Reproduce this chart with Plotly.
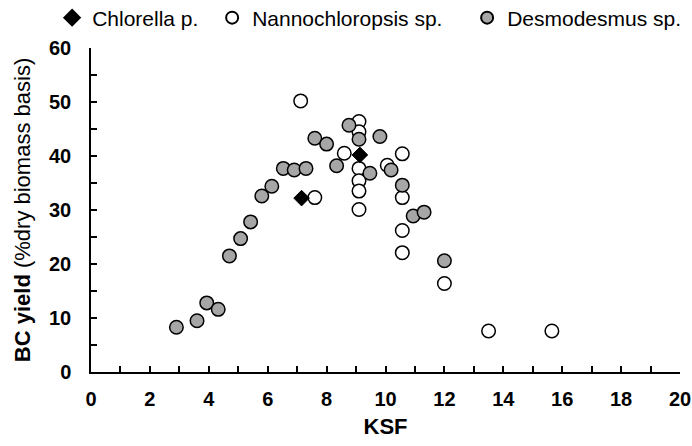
import plotly.graph_objects as go

# Chlorella p.
chl_ksf = [7.15, 9.13]
chl_yield = [32.2, 40.2]

# Nannochloropsis sp.
nan_ksf = [7.12, 7.6, 8.6, 9.1, 9.1, 9.1, 9.1, 9.1, 9.1, 10.06, 10.57, 10.57, 10.57, 10.57, 12.0, 13.5, 15.65]
nan_yield = [50.2, 32.3, 40.5, 46.4, 44.5, 37.7, 35.4, 33.5, 30.1, 38.3, 40.4, 32.3, 26.2, 22.1, 16.4, 7.6, 7.6]

# Desmodesmus sp.
des_ksf = [2.9, 3.6, 3.93, 4.32, 4.7, 5.08, 5.42, 5.8, 6.14, 6.53, 6.9, 7.3, 7.6, 8.0, 8.34,
           8.76, 9.1, 9.47, 9.81, 10.19, 10.57, 10.94, 11.31, 12.0]
des_yield = [8.3, 9.5, 12.8, 11.6, 21.5, 24.7, 27.8, 32.6, 34.4, 37.7, 37.4, 37.7, 43.3, 42.2, 38.2,
             45.7, 43.1, 36.8, 43.6, 37.4, 34.6, 28.9, 29.6, 20.6]

FONT = "Arial, Liberation Sans, sans-serif"

fig = go.Figure()
fig.add_trace(go.Scatter(
    x=nan_ksf, y=nan_yield, mode="markers", name="Nannochloropsis sp.", legendrank=2,
    legendwidth=210,
    marker=dict(symbol="circle", size=13.5, color="white", line=dict(color="black", width=1.5)),
))
fig.add_trace(go.Scatter(
    x=des_ksf, y=des_yield, mode="markers", name="Desmodesmus sp.", legendrank=3,
    legendwidth=190,
    marker=dict(symbol="circle", size=13.5, color="#A6A6A6", line=dict(color="black", width=1.5)),
))
fig.add_trace(go.Scatter(
    x=chl_ksf, y=chl_yield, mode="markers", name="Chlorella p.", legendrank=1,
    legendwidth=115,
    marker=dict(symbol="diamond", size=12, color="black", line=dict(color="black", width=1)),
))

axis_common = dict(
    showgrid=False, zeroline=False, showline=True, linecolor="black", linewidth=1.5,
    ticks="inside", ticklen=6, tickwidth=1.5, tickcolor="black",
    tickfont=dict(family=FONT, size=20, color="black", weight="bold"),
)

fig.update_xaxes(
    range=[0, 20], tick0=0, dtick=2,
    minor=dict(dtick=1, ticks="inside", ticklen=6, tickwidth=1.5, tickcolor="black"),
    title=dict(text="<b>KSF</b>", font=dict(family=FONT, size=22, color="black"), standoff=10),
    ticklabelstandoff=8,
    **axis_common,
)
fig.update_yaxes(
    range=[0, 60], tick0=0, dtick=10,
    minor=dict(dtick=5, ticks="inside", ticklen=6, tickwidth=1.5, tickcolor="black"),
    title=dict(text="<b>BC yield</b> (%dry biomass basis)", font=dict(family=FONT, size=22, color="black"), standoff=12),
    ticklabelstandoff=14,
    **axis_common,
)

fig.update_layout(
    width=692, height=446,
    margin=dict(l=91, r=12, t=48, b=74, autoexpand=False),
    plot_bgcolor="white", paper_bgcolor="white",
    showlegend=True,
    legend=dict(
        orientation="h", x=-0.066, xanchor="left", y=1.0926, yanchor="middle",
        font=dict(family=FONT, size=21, color="black"),
        itemsizing="constant", bgcolor="rgba(0,0,0,0)",
    ),
)

fig.write_html("out.html")
